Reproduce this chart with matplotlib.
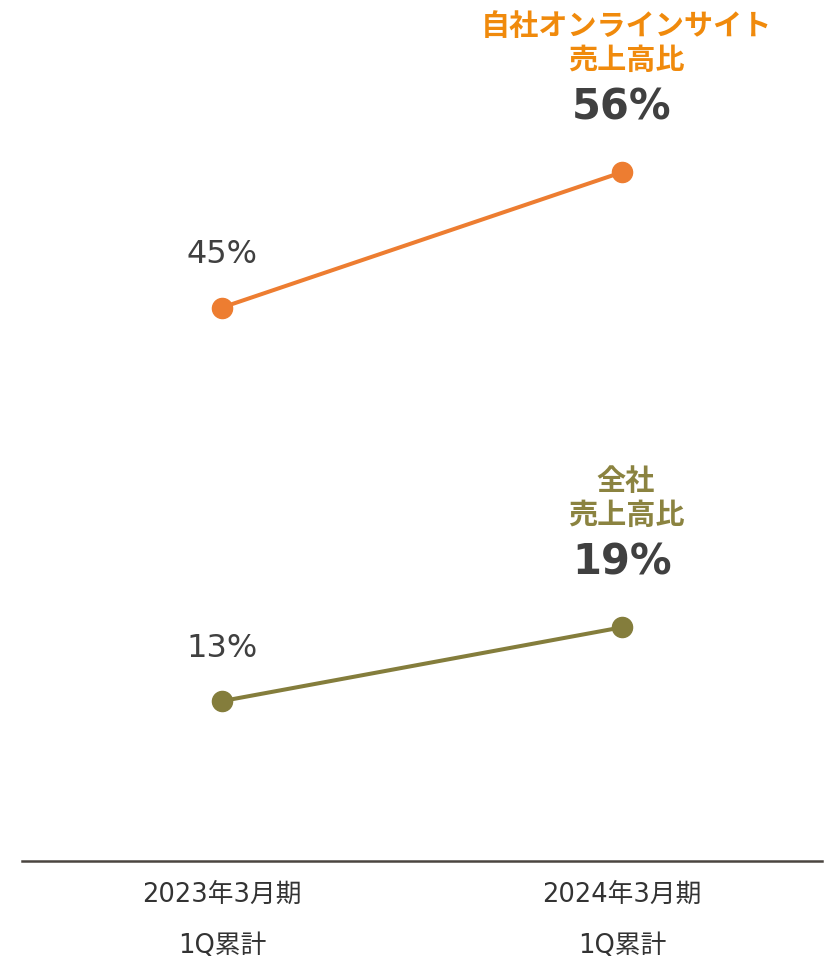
import matplotlib.pyplot as plt
import matplotlib.transforms as mtransforms

plt.rcParams['font.family'] = ['DejaVu Sans', 'Noto Sans CJK JP']

periods = ['2023年3月期', '2024年3月期']
period_sub = ['1Q累計', '1Q累計']
online_ratio = [45, 56]
total_ratio = [13, 19]
online_label = '自社オンラインサイト\n売上高比'
total_label = '全社\n売上高比'

orange = '#ED7D31'
orange_txt = '#F08A0C'
olive = '#847D3C'
olive_txt = '#8B8340'
dark = '#404040'

fig = plt.figure(figsize=(8.39, 9.64), dpi=100)
ax = fig.add_axes([22 / 839, 103 / 964, 800 / 839, 861 / 964])
x = [0.5, 1.5]
ax.set_xlim(0, 2)
ax.set_ylim(0, 70)

for vals, col, lab, lcol in [(online_ratio, orange, online_label, orange_txt),
                             (total_ratio, olive, total_label, olive_txt)]:
    ax.plot(x, vals, color=col, lw=2.9, marker='o', ms=14.5, solid_capstyle='round')
    ax.annotate(f'{vals[0]}%', (x[0], vals[0]), xytext=(0, 53), textcoords='offset pixels',
                ha='center', va='center', fontsize=23, color=dark)
    ax.annotate(f'{vals[1]}%', (x[1], vals[1]), xytext=(0, 65), textcoords='offset pixels',
                ha='center', va='center', fontsize=30, fontweight='bold', color=dark)
    ax.annotate(lab, (x[1], vals[1]), xytext=(4, 97), textcoords='offset pixels',
                ha='center', va='bottom', fontsize=21, fontweight='bold', color=lcol,
                linespacing=1.3)

for s in ['top', 'right', 'left']:
    ax.spines[s].set_visible(False)
ax.spines['bottom'].set_color('#4A4540')
ax.spines['bottom'].set_linewidth(1.8)
ax.set_yticks([])
ax.set_xticks([])

trans = mtransforms.blended_transform_factory(ax.transData, fig.transFigure)
for xi, p, s in zip(x, periods, period_sub):
    ax.text(xi, 1 - 895 / 964, p, transform=trans, ha='center', va='center',
            fontsize=18.5, color='#333333')
    ax.text(xi, 1 - 946 / 964, s, transform=trans, ha='center', va='center',
            fontsize=18.5, color='#333333')

fig.savefig('out.png', dpi=100)
